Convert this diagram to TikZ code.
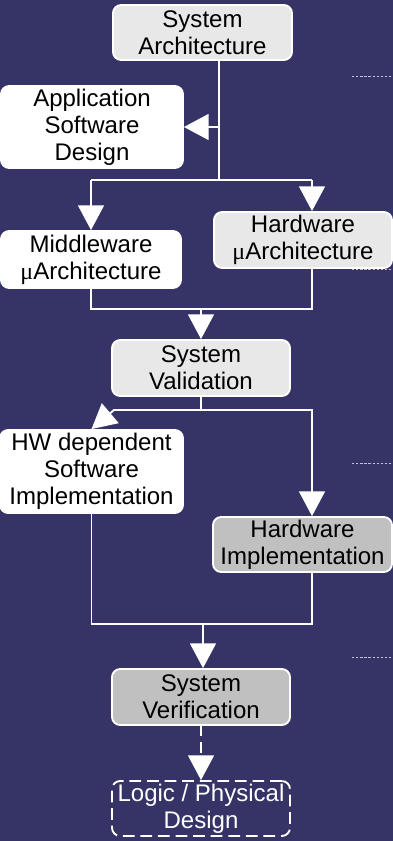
\documentclass[tikz,border=0pt]{standalone}
\usepackage{fontspec}
\setmainfont{Liberation Sans}
\newfontfamily\symbolfont{Liberation Serif}
\usetikzlibrary{arrows.meta}
\definecolor{slideblue}{RGB}{54,52,102}
\definecolor{boxlight}{RGB}{232,232,232}
\definecolor{boxdark}{RGB}{192,192,192}
\newcommand{\micro}{{\symbolfont μ}}

\begin{document}
\begin{tikzpicture}[x=0.03cm,y=-0.03cm,
  box/.style={draw=white,line width=1.6pt,rounded corners=7pt,align=center,inner sep=0pt,font=\fontsize{20.5}{23}\selectfont},
  wire/.style={draw=white,line width=1.6pt},
  arr/.style={wire,-{Triangle[width=22pt,length=21pt]}},
  guide/.style={draw=white!70!slideblue,line width=0.8pt,dash pattern=on 2pt off 1.5pt}]
\useasboundingbox (0,0) rectangle (393,841);
\fill[slideblue] (0,0) rectangle (393,841);
% separators on the right
\draw[guide] (352,76) -- (393,76);
\draw[guide] (352,269) -- (393,269);
\draw[guide] (352,463) -- (393,463);
\draw[guide] (352,657) -- (393,657);
% boxes
\node[box,fill=boxlight,minimum width=5.37cm,minimum height=1.65cm] (sysarch) at (202.5,32.5) {System\\Architecture};
\node[box,fill=white,minimum width=5.46cm,minimum height=2.46cm] (appsw) at (92,127) {Application\\Software\\Design};
\node[box,fill=white,minimum width=5.4cm,minimum height=1.71cm] (mwarch) at (91,259.5) {Middleware\\\micro Architecture};
\node[box,fill=boxlight,minimum width=5.34cm,minimum height=1.68cm] (hwarch) at (303,240) {Hardware\\\micro Architecture};
\node[box,fill=boxlight,minimum width=5.34cm,minimum height=1.68cm] (sysval) at (201,368) {System\\Validation};
\node[box,fill=white,minimum width=5.49cm,minimum height=2.49cm] (hwdep) at (91.5,471.5) {HW dependent\\Software\\Implementation};
\node[box,fill=boxdark,minimum width=5.37cm,minimum height=1.65cm] (hwimpl) at (302.5,544.5) {Hardware\\Implementation};
\node[box,fill=boxdark,minimum width=5.34cm,minimum height=1.68cm] (sysver) at (201,697) {System\\Verification};
\node[box,text=white,dash pattern=on 10pt off 5pt,minimum width=5.34cm,minimum height=1.65cm] (logic) at (201,808.5) {Logic / Physical\\Design};
% connectors
\coordinate (split) at (219,180);
\coordinate (hwin) at (312,180);
\draw[wire] (sysarch.south -| split) -- (split);
\draw[arr] (split |- appsw.east) -- (appsw.east);
\draw[wire] (mwarch.north |- split) -- (hwin);
\draw[arr] (mwarch.north |- split) -- (mwarch.north);
\draw[arr] (hwin) -- (hwin |- hwarch.north);
\coordinate (merge1) at (201,309);
\draw[wire] (mwarch.south) |- (merge1) -| (hwarch.south -| hwin);
\draw[arr] (merge1) -- (sysval.north);
\coordinate (split2) at (201,410);
\coordinate (bend) at (114,410);
\draw[wire] (sysval.south) -- (split2);
\draw[arr] (split2) -- (bend) -- (hwdep.north);
\draw[arr] (split2) -| (hwimpl.north -| hwin);
\coordinate (merge2) at (203,624);
\draw[wire] (hwdep.south) |- (merge2) -| (hwimpl.south -| hwin);
\draw[arr] (merge2) -- (merge2 |- sysver.north);
\draw[arr,dash pattern=on 9pt off 5pt] (sysver.south) -- (logic.north);
\end{tikzpicture}
\end{document}
